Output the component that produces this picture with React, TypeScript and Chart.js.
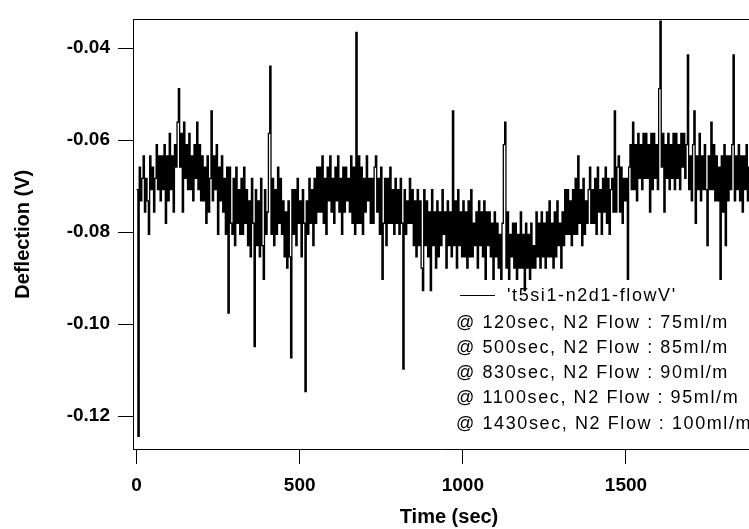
import React, { useEffect, useRef } from "react";
import { Chart, registerables } from "chart.js";

Chart.register(...registerables);

// ---- data ----
// Deflection is stored in ADC counts (one count = adcStepVolts), one reading every sampleIntervalSec.
// Each row holds 40 s of readings.
const sampleIntervalSec = 4;
const adcStepVolts = 0.00244;
const deflectionRows: number[][] = [
  [-29, -51, -27, -30, -28, -26, -31, -28, -30, -33], // 0 s
  [-26, -29, -27, -31, -28, -25, -29, -26, -30, -26],
  [-29, -25, -32, -26, -30, -24, -29, -26, -31, -25],
  [-27, -23, -20, -27, -24, -31, -23, -28, -25, -29],
  [-24, -29, -26, -30, -25, -28, -23, -29, -25, -30],
  [-26, -30, -27, -32, -26, -31, -28, -22, -30, -26], // 200 s
  [-29, -25, -33, -27, -30, -26, -31, -28, -33, -27],
  [-40, -27, -32, -33, -28, -34, -27, -32, -29, -33],
  [-28, -33, -27, -32, -29, -34, -30, -35, -28, -32],
  [-43, -29, -34, -30, -35, -28, -34, -37, -29, -33],
  [-31, -24, -18, -33, -28, -34, -29, -33, -27, -32], // 400 s
  [-28, -33, -30, -35, -31, -36, -30, -35, -44, -29],
  [-33, -29, -34, -28, -32, -30, -35, -29, -32, -47],
  [-30, -33, -28, -32, -29, -34, -28, -32, -27, -31],
  [-27, -31, -26, -32, -28, -33, -27, -30, -26, -31],
  [-28, -32, -27, -30, -26, -31, -28, -33, -27, -31], // 600 s
  [-27, -30, -28, -31, -26, -32, -27, -33, -15, -32],
  [-26, -32, -27, -33, -28, -31, -26, -30, -28, -32],
  [-28, -32, -27, -26, -31, -28, -33, -27, -37, -32],
  [-28, -34, -28, -32, -27, -32, -29, -33, -28, -32],
  [-29, -33, -28, -32, -45, -29, -33, -30, -32, -28], // 800 s
  [-32, -29, -34, -30, -35, -29, -34, -30, -36, -38],
  [-29, -34, -30, -35, -31, -38, -29, -34, -31, -36],
  [-30, -35, -31, -34, -29, -33, -31, -36, -30, -34],
  [-31, -35, -22, -34, -30, -36, -29, -34, -31, -35],
  [-30, -35, -31, -36, -30, -35, -29, -35, -32, -34], // 1000 s
  [-31, -36, -30, -34, -31, -35, -30, -37, -31, -34],
  [-31, -35, -32, -37, -31, -35, -32, -36, -33, -37],
  [-32, -25, -23, -36, -31, -37, -33, -35, -32, -36],
  [-32, -37, -33, -36, -31, -36, -33, -38, -32, -36],
  [-33, -37, -32, -36, -34, -36, -31, -35, -32, -36], // 1200 s
  [-31, -35, -32, -36, -31, -35, -30, -35, -32, -36],
  [-31, -35, -30, -34, -32, -36, -31, -34, -29, -33],
  [-29, -33, -30, -34, -29, -33, -28, -33, -26, -32],
  [-29, -34, -28, -33, -30, -32, -29, -27, -32, -29],
  [-32, -28, -33, -27, -31, -29, -33, -28, -31, -27], // 1400 s
  [-32, -28, -33, -29, -28, -31, -22, -31, -27, -26],
  [-31, -27, -32, -28, -30, -28, -37, -27, -25, -29],
  [-23, -29, -25, -30, -24, -28, -25, -29, -24, -28],
  [-24, -28, -25, -31, -24, -29, -24, -28, -25, -29],
  [-20, -14, -27, -24, -31, -25, -28, -24, -29, -25], // 1600 s
  [-28, -24, -29, -24, -28, -25, -29, -24, -27, -24],
  [-28, -25, -17, -29, -26, -30, -25, -22, -32, -26],
  [-29, -24, -30, -26, -29, -25, -29, -34, -26, -29],
  [-23, -29, -25, -30, -26, -30, -27, -37, -26, -31],
  [-25, -34, -26, -30, -26, -29, -25, -17, -30, -26], // 1800 s
  [-29, -25, -30, -26, -31, -26, -29, -25, -30, -27, -28],
];

const xTickValues = [0, 500, 1000, 1500];
const xTickLabels = ["0", "500", "1000", "1500"];
const yTickValues = [-0.12, -0.1, -0.08, -0.06, -0.04];
const yTickLabels = ["-0.12", "-0.10", "-0.08", "-0.06", "-0.04"];

const xAxisTitle = "Time (sec)";
const yAxisTitle = "Deflection (V)";
const legendTitle = "'t5si1-n2d1-flowV'";
const legendNotes = [
  "@ 120sec, N2 Flow : 75ml/m",
  "@ 500sec, N2 Flow : 85ml/m",
  "@ 830sec, N2 Flow : 90ml/m",
  "@ 1100sec, N2 Flow : 95ml/m",
  "@ 1430sec, N2 Flow : 100ml/m",
];

const FONT = "'Liberation Sans', Arial, Helvetica, sans-serif";

const framePlugin = {
  id: "frameAndLegend",
  afterDraw(chart: any) {
    const ctx: CanvasRenderingContext2D = chart.ctx;
    const a = chart.chartArea;
    ctx.save();
    ctx.strokeStyle = "#000";
    ctx.lineWidth = 1;
    ctx.beginPath();
    ctx.moveTo(a.left, Math.round(a.top) + 0.5);
    ctx.lineTo(a.right, Math.round(a.top) + 0.5);
    ctx.stroke();

    // x-axis title
    ctx.fillStyle = "#000";
    ctx.font = `bold 20px ${FONT}`;
    ctx.textAlign = "center";
    ctx.textBaseline = "middle";
    ctx.fillText(xAxisTitle, 449, 517);

    // legend / annotation block
    ctx.beginPath();
    ctx.moveTo(460, 295.5);
    ctx.lineTo(495, 295.5);
    ctx.stroke();
    ctx.font = `18px ${FONT}`;
    (ctx as any).letterSpacing = "1.6px";
    ctx.textAlign = "left";
    ctx.fillText(legendTitle, 507, 296);
    const rowY = [323, 348, 373, 398, 424];
    legendNotes.forEach((t, i) => ctx.fillText(t, 456, rowY[i]));
    ctx.restore();
  },
};

export default function App() {
  const ref = useRef<HTMLCanvasElement | null>(null);

  useEffect(() => {
    if (!ref.current) return;
    const counts = deflectionRows.flat();
    const points = counts.map((c, i) => ({ x: i * sampleIntervalSec, y: c * adcStepVolts }));

    const chart = new Chart(ref.current, {
      type: "line",
      data: {
        datasets: [
          {
            data: points,
            borderColor: "#000",
            borderWidth: 1.3,
            pointRadius: 0,
            stepped: true,
            fill: false,
            tension: 0,
          },
        ],
      },
      options: {
        animation: false,
        responsive: false,
        devicePixelRatio: 1,
        events: [],
        layout: { padding: { top: 15, right: 0, bottom: 0, left: 0 } },
        plugins: { legend: { display: false }, tooltip: { enabled: false } },
        scales: {
          x: {
            type: "linear",
            min: -11,
            max: 1877,
            afterFit: (s: any) => {
              s.height = 80;
            },
            afterBuildTicks: (s: any) => {
              s.ticks = xTickValues.map((v) => ({ value: v }));
            },
            ticks: {
              callback: (v: any) => xTickLabels[xTickValues.indexOf(v)],
              font: { family: FONT, size: 19, weight: "bold" },
              color: "#000",
              padding: 10,
              maxRotation: 0,
              autoSkip: false,
            },
            grid: { drawOnChartArea: false, drawTicks: true, tickLength: 15, color: "#000" },
            border: { display: true, color: "#000", width: 1 },
            title: { display: false },
          },
          y: {
            type: "linear",
            min: -0.12717,
            max: -0.03376,
            afterFit: (s: any) => {
              s.width = 133;
            },
            afterBuildTicks: (s: any) => {
              s.ticks = yTickValues.map((v) => ({ value: v }));
            },
            ticks: {
              callback: (v: any) => yTickLabels[yTickValues.indexOf(v)],
              font: { family: FONT, size: 19, weight: "bold" },
              color: "#000",
              padding: 8,
              autoSkip: false,
            },
            grid: { drawOnChartArea: false, drawTicks: true, tickLength: 15, color: "#000" },
            border: { display: true, color: "#000", width: 1 },
            title: {
              display: true,
              text: yAxisTitle,
              font: { family: FONT, size: 20, weight: "bold" },
              color: "#000",
              padding: { top: 11, bottom: 0 },
            },
          },
        },
      },
      plugins: [framePlugin],
    });
    return () => chart.destroy();
  }, []);

  return (
    <div style={{ position: "fixed", left: 0, top: 0, width: 749, height: 529, background: "#fff" }}>
      <canvas ref={ref} width={749} height={529} style={{ display: "block" }} />
    </div>
  );
}
